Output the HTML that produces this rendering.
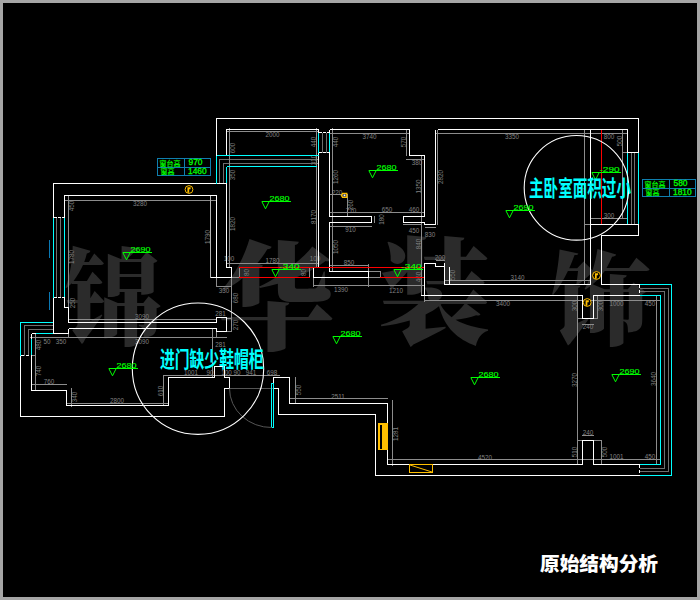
<!DOCTYPE html>
<html lang="zh"><head><meta charset="utf-8"><title>原始结构分析</title>
<style>
html,body{margin:0;padding:0;background:#000;}
body{width:700px;height:600px;overflow:hidden;position:relative;font-family:"Liberation Sans","Noto Sans CJK SC",sans-serif;}
#frame{position:absolute;left:0;top:0;width:694px;height:594px;border:3px solid #a6a6a6;background:#000;}
svg{position:absolute;left:0;top:0;}
.wm{font-family:"Liberation Serif","Noto Serif CJK SC",serif;font-weight:900;font-size:110px;fill:#2b2b2b;}
.lv{font-family:"Liberation Sans",sans-serif;font-size:7.6px;fill:#00ff00;stroke:#00ff00;stroke-width:0.15px;}
.dm{font-family:"Liberation Sans",sans-serif;font-size:6.3px;fill:#808080;}
.tb{font-family:"Liberation Sans","Noto Sans CJK SC",sans-serif;font-weight:400;font-size:7px;fill:#00ff00;stroke:#00ff00;stroke-width:0.2px;}
.tn{font-family:"Liberation Sans",sans-serif;font-size:8.4px;fill:#00ff00;stroke:#00ff00;stroke-width:0.3px;}
.note{font-family:"Liberation Sans","Noto Sans CJK SC",sans-serif;font-weight:700;font-size:21.4px;fill:#00ffff;}
.title{font-family:"Liberation Sans","Noto Sans CJK SC",sans-serif;font-weight:900;font-size:19.5px;fill:#fff;}
</style></head><body>
<div id="frame"></div>
<svg width="700" height="600" viewBox="0 0 700 600">
<g id="watermark">
<text class="wm" transform="translate(113.5 336) scale(0.89 0.955)" text-anchor="middle">锦</text>
<text class="wm" transform="translate(276 340) scale(1.06 1.06)" text-anchor="middle">华</text>
<text class="wm" transform="translate(434.5 335) scale(1.02 1.05)" text-anchor="middle">装</text>
<text class="wm" transform="translate(600 337) scale(0.92 0.93)" text-anchor="middle">饰</text>
</g>
<g id="dims">
<text x="140" y="206.0" text-anchor="middle" class="dm">3280</text>
<text x="71.5" y="208.5" text-anchor="middle" class="dm" transform="rotate(-90 71.5 206)">450</text>
<text x="71.5" y="259.5" text-anchor="middle" class="dm" transform="rotate(-90 71.5 257)">1780</text>
<text x="72" y="305.5" text-anchor="middle" class="dm" transform="rotate(-90 72 303)">250</text>
<text x="142" y="318.5" text-anchor="middle" class="dm">3090</text>
<text x="142" y="343.5" text-anchor="middle" class="dm">3090</text>
<text x="47" y="343.5" text-anchor="middle" class="dm">50</text>
<text x="61" y="343.5" text-anchor="middle" class="dm">350</text>
<text x="38.5" y="347.5" text-anchor="middle" class="dm" transform="rotate(-90 38.5 345)">480</text>
<text x="38.5" y="373.5" text-anchor="middle" class="dm" transform="rotate(-90 38.5 371)">740</text>
<text x="49" y="383.5" text-anchor="middle" class="dm">760</text>
<text x="74" y="399.5" text-anchor="middle" class="dm" transform="rotate(-90 74 397)">340</text>
<text x="117" y="402.5" text-anchor="middle" class="dm">2800</text>
<text x="160" y="393.5" text-anchor="middle" class="dm" transform="rotate(-90 160 391)">610</text>
<text x="191" y="374.5" text-anchor="middle" class="dm">1001</text>
<text x="251" y="374.5" text-anchor="middle" class="dm">941</text>
<text x="210" y="374.5" text-anchor="middle" class="dm">90</text>
<text x="226.5" y="374.5" text-anchor="middle" class="dm">100</text>
<text x="237" y="374.5" text-anchor="middle" class="dm">90</text>
<text x="272" y="374.5" text-anchor="middle" class="dm">698</text>
<text x="298" y="392.5" text-anchor="middle" class="dm" transform="rotate(-90 298 390)">550</text>
<text x="338" y="398.5" text-anchor="middle" class="dm">2511</text>
<text x="395.5" y="436.5" text-anchor="middle" class="dm" transform="rotate(-90 395.5 434)">1281</text>
<text x="485" y="459.5" text-anchor="middle" class="dm">4520</text>
<text x="574" y="382.5" text-anchor="middle" class="dm" transform="rotate(-90 574 380)">3270</text>
<text x="653.5" y="381.5" text-anchor="middle" class="dm" transform="rotate(-90 653.5 379)">3640</text>
<text x="588" y="434.5" text-anchor="middle" class="dm">240</text>
<text x="588" y="328.5" text-anchor="middle" class="dm">240</text>
<text x="574" y="454.5" text-anchor="middle" class="dm" transform="rotate(-90 574 452)">510</text>
<text x="604.5" y="454.5" text-anchor="middle" class="dm" transform="rotate(-90 604.5 452)">500</text>
<text x="616.5" y="459.0" text-anchor="middle" class="dm">1001</text>
<text x="650" y="459.0" text-anchor="middle" class="dm">450</text>
<text x="616.5" y="306.0" text-anchor="middle" class="dm">1000</text>
<text x="650" y="306.0" text-anchor="middle" class="dm">450</text>
<text x="574" y="308.5" text-anchor="middle" class="dm" transform="rotate(-90 574 306)">300</text>
<text x="600.5" y="308.5" text-anchor="middle" class="dm" transform="rotate(-90 600.5 306)">300</text>
<text x="503" y="306.0" text-anchor="middle" class="dm">3400</text>
<text x="517.5" y="280.0" text-anchor="middle" class="dm">3140</text>
<text x="272.5" y="137.0" text-anchor="middle" class="dm">2000</text>
<text x="232.5" y="150.5" text-anchor="middle" class="dm" transform="rotate(-90 232.5 148)">600</text>
<text x="232.5" y="177.5" text-anchor="middle" class="dm" transform="rotate(-90 232.5 175)">350</text>
<text x="232.5" y="226.5" text-anchor="middle" class="dm" transform="rotate(-90 232.5 224)">1820</text>
<text x="369.5" y="138.5" text-anchor="middle" class="dm">3740</text>
<text x="313.5" y="144.5" text-anchor="middle" class="dm" transform="rotate(-90 313.5 142)">440</text>
<text x="335" y="144.5" text-anchor="middle" class="dm" transform="rotate(-90 335 142)">440</text>
<text x="313.5" y="162.5" text-anchor="middle" class="dm" transform="rotate(-90 313.5 160)">310</text>
<text x="335" y="179.5" text-anchor="middle" class="dm" transform="rotate(-90 335 177)">1260</text>
<text x="313.5" y="219.5" text-anchor="middle" class="dm" transform="rotate(-90 313.5 217)">8170</text>
<text x="403.5" y="144.5" text-anchor="middle" class="dm" transform="rotate(-90 403.5 142)">570</text>
<text x="417" y="165.0" text-anchor="middle" class="dm">380</text>
<text x="418" y="189.0" text-anchor="middle" class="dm" transform="rotate(-90 418 186.5)">1350</text>
<text x="387" y="212.0" text-anchor="middle" class="dm">650</text>
<text x="414" y="212.0" text-anchor="middle" class="dm">460</text>
<text x="414" y="232.5" text-anchor="middle" class="dm">450</text>
<text x="430" y="237.0" text-anchor="middle" class="dm">830</text>
<text x="418.5" y="246.5" text-anchor="middle" class="dm" transform="rotate(-90 418.5 244)">840</text>
<text x="440" y="260.0" text-anchor="middle" class="dm">200</text>
<text x="452.5" y="277.5" text-anchor="middle" class="dm" transform="rotate(-90 452.5 275)">550</text>
<text x="418.5" y="279.5" text-anchor="middle" class="dm" transform="rotate(-90 418.5 277)">460</text>
<text x="396" y="292.5" text-anchor="middle" class="dm">1210</text>
<text x="341" y="292.0" text-anchor="middle" class="dm">1390</text>
<text x="349" y="265.0" text-anchor="middle" class="dm">850</text>
<text x="335.5" y="249.5" text-anchor="middle" class="dm" transform="rotate(-90 335.5 247)">1050</text>
<text x="350.5" y="232.0" text-anchor="middle" class="dm">910</text>
<text x="351" y="212.5" text-anchor="middle" class="dm">710</text>
<text x="381.5" y="222.0" text-anchor="middle" class="dm" transform="rotate(-90 381.5 219.5)">180</text>
<text x="337" y="194.5" text-anchor="middle" class="dm">220</text>
<text x="350" y="207.5" text-anchor="middle" class="dm" transform="rotate(-90 350 205)">260</text>
<text x="512" y="139.0" text-anchor="middle" class="dm">3350</text>
<text x="440" y="179.5" text-anchor="middle" class="dm" transform="rotate(-90 440 177)">2820</text>
<text x="609" y="138.5" text-anchor="middle" class="dm">800</text>
<text x="619.5" y="143.5" text-anchor="middle" class="dm" transform="rotate(-90 619.5 141)">500</text>
<text x="609" y="218.0" text-anchor="middle" class="dm">300</text>
<text x="224" y="292.5" text-anchor="middle" class="dm">330</text>
<text x="235" y="300.5" text-anchor="middle" class="dm" transform="rotate(-90 235 298)">680</text>
<text x="235" y="327.5" text-anchor="middle" class="dm" transform="rotate(-90 235 325)">270</text>
<text x="220.5" y="315.5" text-anchor="middle" class="dm">281</text>
<text x="220.5" y="347.0" text-anchor="middle" class="dm">281</text>
<text x="272.5" y="263.0" text-anchor="middle" class="dm">1780</text>
<text x="207" y="239.5" text-anchor="middle" class="dm" transform="rotate(-90 207 237)">1790</text>
<text x="229" y="261.0" text-anchor="middle" class="dm">100</text>
<text x="246" y="275.0" text-anchor="middle" class="dm" transform="rotate(-90 246 272.5)">80</text>
<text x="303" y="275.0" text-anchor="middle" class="dm" transform="rotate(-90 303 272.5)">80</text>
<text x="315" y="261.0" text-anchor="middle" class="dm">100</text>
<text x="582" y="192.5" text-anchor="middle" class="dm" transform="rotate(-90 582 190)">5</text>
</g>
<g id="plan" shape-rendering="crispEdges" fill="none">
<line x1="56.5" y1="217.5" x2="56.5" y2="297.5" stroke="#6e6e6e" stroke-width="1"/>
<line x1="60.5" y1="217.5" x2="60.5" y2="297.5" stroke="#6e6e6e" stroke-width="1"/>
<line x1="68.5" y1="195" x2="68.5" y2="307.5" stroke="#8c8c8c" stroke-width="1"/>
<line x1="68.5" y1="333.5" x2="68.5" y2="338" stroke="#8c8c8c" stroke-width="1"/>
<line x1="64" y1="200.5" x2="217" y2="200.5" stroke="#8c8c8c" stroke-width="1"/>
<line x1="216.5" y1="277.5" x2="216.5" y2="286.5" stroke="#8c8c8c" stroke-width="1"/>
<line x1="68" y1="319.5" x2="217" y2="319.5" stroke="#8c8c8c" stroke-width="1"/>
<line x1="30" y1="337.5" x2="226.5" y2="337.5" stroke="#8c8c8c" stroke-width="1"/>
<line x1="212.5" y1="328.5" x2="212.5" y2="378" stroke="#8c8c8c" stroke-width="1"/>
<line x1="216.5" y1="331.5" x2="216.5" y2="338" stroke="#8c8c8c" stroke-width="1"/>
<line x1="231.5" y1="277.5" x2="231.5" y2="331.5" stroke="#8c8c8c" stroke-width="1"/>
<line x1="226" y1="318.5" x2="232" y2="318.5" stroke="#8c8c8c" stroke-width="1"/>
<line x1="226" y1="331.5" x2="232" y2="331.5" stroke="#8c8c8c" stroke-width="1"/>
<line x1="31.5" y1="355.5" x2="35.5" y2="355.5" stroke="#8c8c8c" stroke-width="1"/>
<polyline points="52.5,325.5 24.5,325.5 24.5,355.5" fill="none" stroke="#6e6e6e" stroke-width="1"/>
<polyline points="52.5,329.5 28.5,329.5 28.5,355.5" fill="none" stroke="#6e6e6e" stroke-width="1"/>
<line x1="35.5" y1="333.5" x2="35.5" y2="391" stroke="#8c8c8c" stroke-width="1"/>
<line x1="31" y1="384.5" x2="67" y2="384.5" stroke="#8c8c8c" stroke-width="1"/>
<line x1="71" y1="388" x2="71" y2="407" stroke="#8c8c8c" stroke-width="1"/>
<line x1="66" y1="403" x2="169" y2="403" stroke="#8c8c8c" stroke-width="1"/>
<line x1="163" y1="376" x2="163" y2="406" stroke="#8c8c8c" stroke-width="1"/>
<line x1="163" y1="375.5" x2="280" y2="375.5" stroke="#8c8c8c" stroke-width="1"/>
<line x1="231.5" y1="277.5" x2="239" y2="277.5" stroke="#8c8c8c" stroke-width="1"/>
<line x1="313.5" y1="277.5" x2="313.5" y2="286.5" stroke="#8c8c8c" stroke-width="1"/>
<polyline points="318,159.5 219.5,159.5 219.5,183.5" fill="none" stroke="#6e6e6e" stroke-width="1"/>
<polyline points="318,163.5 223.5,163.5 223.5,183.5" fill="none" stroke="#6e6e6e" stroke-width="1"/>
<line x1="229.5" y1="128" x2="229.5" y2="268" stroke="#8c8c8c" stroke-width="1"/>
<line x1="226" y1="131.5" x2="319" y2="131.5" stroke="#8c8c8c" stroke-width="1"/>
<line x1="316.5" y1="128" x2="316.5" y2="268" stroke="#8c8c8c" stroke-width="1"/>
<line x1="226" y1="263.5" x2="319" y2="263.5" stroke="#8c8c8c" stroke-width="1"/>
<line x1="322.5" y1="132.5" x2="322.5" y2="152.5" stroke="#6e6e6e" stroke-width="1"/>
<line x1="326" y1="132.5" x2="326" y2="152.5" stroke="#6e6e6e" stroke-width="1"/>
<line x1="239" y1="267" x2="239" y2="278" stroke="#8c8c8c" stroke-width="1"/>
<line x1="309.5" y1="267" x2="309.5" y2="278" stroke="#8c8c8c" stroke-width="1"/>
<line x1="380" y1="271" x2="380" y2="278" stroke="#8c8c8c" stroke-width="1"/>
<line x1="368.5" y1="271.5" x2="380" y2="271.5" stroke="#8c8c8c" stroke-width="1"/>
<line x1="368.5" y1="277.5" x2="380" y2="277.5" stroke="#8c8c8c" stroke-width="1"/>
<line x1="368.5" y1="264" x2="368.5" y2="286.5" stroke="#8c8c8c" stroke-width="1"/>
<line x1="216.5" y1="286.5" x2="231.5" y2="286.5" stroke="#8c8c8c" stroke-width="1"/>
<line x1="313.5" y1="285.5" x2="424.5" y2="285.5" stroke="#8c8c8c" stroke-width="1"/>
<line x1="332.5" y1="128" x2="332.5" y2="272" stroke="#8c8c8c" stroke-width="1"/>
<line x1="329" y1="133.5" x2="410" y2="133.5" stroke="#8c8c8c" stroke-width="1"/>
<line x1="406.5" y1="129" x2="406.5" y2="156" stroke="#8c8c8c" stroke-width="1"/>
<line x1="406" y1="159.5" x2="425" y2="159.5" stroke="#8c8c8c" stroke-width="1"/>
<line x1="421.5" y1="156" x2="421.5" y2="296" stroke="#8c8c8c" stroke-width="1"/>
<line x1="329" y1="212.5" x2="425" y2="212.5" stroke="#8c8c8c" stroke-width="1"/>
<line x1="329" y1="226.5" x2="372" y2="226.5" stroke="#8c8c8c" stroke-width="1"/>
<line x1="374.5" y1="216" x2="374.5" y2="223" stroke="#8c8c8c" stroke-width="1"/>
<line x1="329" y1="194.5" x2="347" y2="194.5" stroke="#8c8c8c" stroke-width="1"/>
<line x1="347.5" y1="194" x2="347.5" y2="216" stroke="#8c8c8c" stroke-width="1"/>
<line x1="329" y1="265.5" x2="369" y2="265.5" stroke="#8c8c8c" stroke-width="1"/>
<line x1="403" y1="224.5" x2="421" y2="224.5" stroke="#8c8c8c" stroke-width="1"/>
<line x1="424.5" y1="227.5" x2="435.5" y2="227.5" stroke="#8c8c8c" stroke-width="1"/>
<line x1="437.5" y1="129.5" x2="437.5" y2="225" stroke="#8c8c8c" stroke-width="1"/>
<line x1="435" y1="133.5" x2="628" y2="133.5" stroke="#8c8c8c" stroke-width="1"/>
<line x1="584.5" y1="129.5" x2="584.5" y2="284.5" stroke="#8c8c8c" stroke-width="1"/>
<line x1="631.5" y1="152.5" x2="631.5" y2="224.5" stroke="#6e6e6e" stroke-width="1"/>
<line x1="634.5" y1="152.5" x2="634.5" y2="224.5" stroke="#6e6e6e" stroke-width="1"/>
<line x1="622.5" y1="152.5" x2="627.5" y2="152.5" stroke="#8c8c8c" stroke-width="1"/>
<line x1="584.5" y1="224.5" x2="590.5" y2="224.5" stroke="#8c8c8c" stroke-width="1"/>
<line x1="622.5" y1="129" x2="622.5" y2="218.5" stroke="#8c8c8c" stroke-width="1"/>
<line x1="590" y1="218.5" x2="628" y2="218.5" stroke="#8c8c8c" stroke-width="1"/>
<line x1="435.5" y1="260.5" x2="444.5" y2="260.5" stroke="#8c8c8c" stroke-width="1"/>
<line x1="444.5" y1="280.5" x2="590" y2="280.5" stroke="#8c8c8c" stroke-width="1"/>
<line x1="424.5" y1="295.5" x2="424.5" y2="302" stroke="#8c8c8c" stroke-width="1"/>
<line x1="424.5" y1="300.5" x2="660" y2="300.5" stroke="#8c8c8c" stroke-width="1"/>
<polyline points="639.5,288.5 668,288.5 668,471.5 639.5,471.5" fill="none" stroke="#6e6e6e" stroke-width="1"/>
<polyline points="639.5,291.5 664.5,291.5 664.5,468 639.5,468" fill="none" stroke="#6e6e6e" stroke-width="1"/>
<line x1="656.5" y1="295" x2="656.5" y2="465" stroke="#8c8c8c" stroke-width="1"/>
<line x1="577.5" y1="295" x2="577.5" y2="465" stroke="#8c8c8c" stroke-width="1"/>
<line x1="597.5" y1="295" x2="597.5" y2="319" stroke="#8c8c8c" stroke-width="1"/>
<line x1="582" y1="324.5" x2="594" y2="324.5" stroke="#8c8c8c" stroke-width="1"/>
<line x1="577" y1="318.5" x2="598" y2="318.5" stroke="#8c8c8c" stroke-width="1"/>
<line x1="387" y1="459.5" x2="660" y2="459.5" stroke="#8c8c8c" stroke-width="1"/>
<line x1="392.5" y1="400" x2="392.5" y2="466" stroke="#8c8c8c" stroke-width="1"/>
<line x1="289" y1="398.5" x2="388" y2="398.5" stroke="#8c8c8c" stroke-width="1"/>
<line x1="295.5" y1="377" x2="295.5" y2="404" stroke="#8c8c8c" stroke-width="1"/>
<line x1="601.5" y1="440" x2="601.5" y2="465" stroke="#8c8c8c" stroke-width="1"/>
<line x1="582" y1="435.5" x2="594" y2="435.5" stroke="#8c8c8c" stroke-width="1"/>
<line x1="577" y1="440.5" x2="602" y2="440.5" stroke="#8c8c8c" stroke-width="1"/>
<line x1="229.5" y1="388.5" x2="273" y2="388.5" stroke="#555" stroke-width="1"/>
<polyline points="216.5,155.5 216.5,118.5 638.5,118.5 638.5,152.5" fill="none" stroke="#fff" stroke-width="1"/>
<line x1="638.5" y1="152.5" x2="638.5" y2="224.5" stroke="#00ffff" stroke-width="1"/>
<polyline points="638.5,224.5 638.5,235.5 601.5,235.5 601.5,284.5 639.5,284.5" fill="none" stroke="#fff" stroke-width="1"/>
<polyline points="639.5,284.5 671.5,284.5 671.5,475.5 639.5,475.5" fill="none" stroke="#00ffff" stroke-width="1"/>
<polyline points="639.5,475.5 375.5,475.5 375.5,414.5 278.5,414.5 278.5,388.5 273.5,388.5" fill="none" stroke="#fff" stroke-width="1"/>
<polyline points="229.5,388.5 224.5,388.5 224.5,416.5 20.5,416.5 20.5,355.5" fill="none" stroke="#fff" stroke-width="1"/>
<polyline points="20.5,355.5 20.5,322.5 53.5,322.5" fill="none" stroke="#00ffff" stroke-width="1"/>
<polyline points="53.5,333.5 53.5,297.5" fill="none" stroke="#fff" stroke-width="1"/>
<line x1="53.5" y1="297.5" x2="53.5" y2="217.5" stroke="#00ffff" stroke-width="1"/>
<polyline points="53.5,217.5 53.5,183.5 216.5,183.5" fill="none" stroke="#fff" stroke-width="1"/>
<line x1="216.5" y1="183.5" x2="216.5" y2="155.5" stroke="#00ffff" stroke-width="1"/>
<polyline points="64.5,217.5 64.5,195.5 216.5,195.5 216.5,277.5" fill="none" stroke="#fff" stroke-width="1"/>
<line x1="210.5" y1="195.5" x2="210.5" y2="277.5" stroke="#b4b4b4" stroke-width="1"/>
<line x1="64.5" y1="217.5" x2="64.5" y2="297.5" stroke="#00ffff" stroke-width="1"/>
<line x1="53.5" y1="217.5" x2="64.5" y2="217.5" stroke="#fff" stroke-width="1" stroke-dasharray="3 1"/>
<line x1="53.5" y1="297.5" x2="64.5" y2="297.5" stroke="#fff" stroke-width="1" stroke-dasharray="3 1"/>
<line x1="49.5" y1="240" x2="49.5" y2="258" stroke="#0a78b4" stroke-width="1"/>
<line x1="49.5" y1="292" x2="49.5" y2="310" stroke="#0a78b4" stroke-width="1"/>
<polyline points="64.5,297.5 64.5,307.5 68.5,307.5 68.5,322.5" fill="none" stroke="#fff" stroke-width="1"/>
<line x1="68.5" y1="328.5" x2="68.5" y2="333.5" stroke="#fff" stroke-width="1"/>
<line x1="68.5" y1="322.5" x2="216.5" y2="322.5" stroke="#fff" stroke-width="1"/>
<line x1="68.5" y1="328.5" x2="216.5" y2="328.5" stroke="#fff" stroke-width="1"/>
<line x1="53.5" y1="333.5" x2="68.5" y2="333.5" stroke="#fff" stroke-width="1"/>
<polyline points="216.5,322.5 216.5,317.5 226.5,317.5 226.5,331.5 216.5,331.5 216.5,328.5" fill="none" stroke="#fff" stroke-width="1"/>
<line x1="36" y1="333.5" x2="53" y2="333.5" stroke="#00ffff" stroke-width="1"/>
<line x1="31.5" y1="333.5" x2="36" y2="333.5" stroke="#fff" stroke-width="1"/>
<line x1="31.5" y1="333.5" x2="31.5" y2="338.5" stroke="#fff" stroke-width="1"/>
<line x1="31.5" y1="338.5" x2="31.5" y2="355.5" stroke="#00ffff" stroke-width="1"/>
<polyline points="31.5,355.5 31.5,390.5 66.5,390.5 66.5,405.5 168.5,405.5 168.5,377.5 214.5,377.5 214.5,366.5 224.5,366.5 224.5,377.5 229.5,377.5 229.5,388.5" fill="none" stroke="#fff" stroke-width="1"/>
<line x1="20.5" y1="355.5" x2="31.5" y2="355.5" stroke="#fff" stroke-width="1" stroke-dasharray="3 2"/>
<line x1="53.5" y1="322.5" x2="53.5" y2="333.5" stroke="#fff" stroke-width="1" stroke-dasharray="3 2"/>
<polyline points="226.5,155.5 226.5,129.5 318.5,129.5" fill="none" stroke="#fff" stroke-width="1"/>
<line x1="318.5" y1="152.5" x2="318.5" y2="267.5" stroke="#fff" stroke-width="1"/>
<polyline points="226.5,183.5 226.5,267.5 231.5,267.5 231.5,277.5 210.5,277.5" fill="none" stroke="#fff" stroke-width="1"/>
<polyline points="318.5,267.5 313.5,267.5 313.5,277.5 368.5,277.5 368.5,271.5 329.5,271.5 329.5,222.5 371.5,222.5 371.5,216.5 329.5,216.5 329.5,152.5" fill="none" stroke="#fff" stroke-width="1"/>
<line x1="216.5" y1="155.5" x2="318.5" y2="155.5" stroke="#00ffff" stroke-width="1"/>
<line x1="226.5" y1="166.5" x2="316.5" y2="166.5" stroke="#00ffff" stroke-width="1"/>
<line x1="226.5" y1="166.5" x2="226.5" y2="183.5" stroke="#00ffff" stroke-width="1"/>
<line x1="216.5" y1="183.5" x2="226.5" y2="183.5" stroke="#fff" stroke-width="1"/>
<line x1="318.5" y1="132.5" x2="318.5" y2="152.5" stroke="#00ffff" stroke-width="1"/>
<line x1="329.5" y1="132.5" x2="329.5" y2="152.5" stroke="#00ffff" stroke-width="1"/>
<line x1="318.5" y1="129.5" x2="318.5" y2="132.5" stroke="#fff" stroke-width="1"/>
<line x1="329.5" y1="129.5" x2="329.5" y2="132.5" stroke="#fff" stroke-width="1"/>
<line x1="319" y1="132.5" x2="329.5" y2="132.5" stroke="#fff" stroke-width="1" stroke-dasharray="2.5 1.5"/>
<line x1="319" y1="152.5" x2="329.5" y2="152.5" stroke="#fff" stroke-width="1" stroke-dasharray="2.5 1.5"/>
<line x1="239" y1="267.5" x2="424.5" y2="267.5" stroke="#ff0000" stroke-width="1"/>
<line x1="239" y1="277.5" x2="309.5" y2="277.5" stroke="#ff0000" stroke-width="1"/>
<line x1="380" y1="277.5" x2="424.5" y2="277.5" stroke="#ff0000" stroke-width="1"/>
<polyline points="329.5,129.5 409.5,129.5 409.5,155.5 424.5,155.5 424.5,216.5 403.5,216.5 403.5,222.5 424.5,222.5 424.5,224.5 435.5,224.5 435.5,129.5" fill="none" stroke="#fff" stroke-width="1"/>
<polyline points="437.5,129.5 627.5,129.5 627.5,152.5" fill="none" stroke="#fff" stroke-width="1"/>
<line x1="590.5" y1="129.5" x2="590.5" y2="284.5" stroke="#fff" stroke-width="1"/>
<line x1="601.5" y1="129.5" x2="601.5" y2="225" stroke="#ff0000" stroke-width="1"/>
<line x1="627.5" y1="152.5" x2="627.5" y2="224.5" stroke="#00ffff" stroke-width="1"/>
<line x1="627.5" y1="152.5" x2="638.5" y2="152.5" stroke="#fff" stroke-width="1"/>
<line x1="590.5" y1="224.5" x2="638.5" y2="224.5" stroke="#fff" stroke-width="1"/>
<polyline points="424.5,295.5 424.5,263.5 435.5,263.5 435.5,266.5 444.5,266.5 444.5,284.5 590.5,284.5" fill="none" stroke="#fff" stroke-width="1"/>
<line x1="444.5" y1="262.5" x2="444.5" y2="266.5" stroke="#fff" stroke-width="1"/>
<line x1="449.5" y1="266.5" x2="449.5" y2="284.5" stroke="#fff" stroke-width="1"/>
<polyline points="421,295.5 582.5,295.5 582.5,318.5 593.5,318.5 593.5,295.5 639.5,295.5" fill="none" stroke="#fff" stroke-width="1"/>
<polyline points="639.5,295.5 660.5,295.5 660.5,464.5 639.5,464.5" fill="none" stroke="#00ffff" stroke-width="1"/>
<line x1="639.5" y1="284.5" x2="639.5" y2="295.5" stroke="#fff" stroke-width="1" stroke-dasharray="3 2"/>
<line x1="639.5" y1="464.5" x2="639.5" y2="475.5" stroke="#fff" stroke-width="1" stroke-dasharray="3 2"/>
<polyline points="639.5,464.5 593.5,464.5 593.5,440.5 582.5,440.5 582.5,464.5 387.5,464.5 387.5,403.5 289.5,403.5 289.5,377.5 273.5,377.5 273.5,388.5" fill="none" stroke="#fff" stroke-width="1"/>
<rect x="271.5" y="383.5" width="2" height="44" fill="none" stroke="#00ffff" stroke-width="1"/>
<path d="M229.5,388.5 A42,39 0 0 0 272,427.5" fill="none" stroke="#555" stroke-width="1" shape-rendering="auto"/>
<rect x="378" y="423" width="10" height="27" fill="#ffbf00"/>
<rect x="379.5" y="424.5" width="2.5" height="24" fill="#000"/>
<rect x="409.5" y="464.5" width="23" height="8" fill="none" stroke="#ffbf00" stroke-width="1"/>
<line x1="410" y1="465" x2="432" y2="472" stroke="#ffbf00" stroke-width="1" shape-rendering="auto"/>
<g shape-rendering="auto"><polygon points="341.4,195.4 342.6,193.4 346.8,193.4 346.8,197.4 342.6,197.4" fill="#4a5060" stroke="#ffbf00" stroke-width="1.3"/><circle cx="344.5" cy="195.4" r="0.8" fill="#fff"/></g>
</g>
<g id="circles">
<circle cx="198" cy="368.7" r="65.7" fill="none" stroke="#fff" stroke-width="1.1"/>
<circle cx="576.5" cy="187.8" r="52.3" fill="none" stroke="#fff" stroke-width="1.1"/>
</g>
<g id="levels">
<g stroke="#00ff00" fill="none" stroke-width="1"><line x1="122.5" y1="252.5" x2="152.0" y2="252.5" shape-rendering="crispEdges"/><path d="M122.8,252.5 L126.5,259.8 L130.2,252.5"/></g><text x="150.5" y="251.9" text-anchor="end" class="lv" textLength="20" lengthAdjust="spacingAndGlyphs">2690</text>
<g stroke="#00ff00" fill="none" stroke-width="1"><line x1="261.5" y1="201.5" x2="291.0" y2="201.5" shape-rendering="crispEdges"/><path d="M261.8,201.5 L265.5,208.8 L269.2,201.5"/></g><text x="289.5" y="200.9" text-anchor="end" class="lv" textLength="20" lengthAdjust="spacingAndGlyphs">2680</text>
<g stroke="#00ff00" fill="none" stroke-width="1"><line x1="368.5" y1="170.5" x2="398.0" y2="170.5" shape-rendering="crispEdges"/><path d="M368.8,170.5 L372.5,177.8 L376.2,170.5"/></g><text x="396.5" y="169.9" text-anchor="end" class="lv" textLength="20" lengthAdjust="spacingAndGlyphs">2680</text>
<g stroke="#00ff00" fill="none" stroke-width="1"><line x1="505.5" y1="210.5" x2="535.0" y2="210.5" shape-rendering="crispEdges"/><path d="M505.8,210.5 L509.5,217.8 L513.2,210.5"/></g><text x="533.5" y="209.9" text-anchor="end" class="lv" textLength="20" lengthAdjust="spacingAndGlyphs">2690</text>
<g stroke="#00ff00" fill="none" stroke-width="1"><line x1="591.5" y1="172.5" x2="621.0" y2="172.5" shape-rendering="crispEdges"/><path d="M591.8,172.5 L595.5,179.8 L599.2,172.5"/></g><text x="619.5" y="171.9" text-anchor="end" class="lv" textLength="20" lengthAdjust="spacingAndGlyphs">-290</text>
<g stroke="#00ff00" fill="none" stroke-width="1"><line x1="271.5" y1="269.5" x2="301.0" y2="269.5" shape-rendering="crispEdges"/><path d="M271.8,269.5 L275.5,276.8 L279.2,269.5"/></g><text x="299.5" y="268.9" text-anchor="end" class="lv" textLength="20" lengthAdjust="spacingAndGlyphs">-340</text>
<g stroke="#00ff00" fill="none" stroke-width="1"><line x1="393.5" y1="269.5" x2="423.0" y2="269.5" shape-rendering="crispEdges"/><path d="M393.8,269.5 L397.5,276.8 L401.2,269.5"/></g><text x="421.5" y="268.9" text-anchor="end" class="lv" textLength="20" lengthAdjust="spacingAndGlyphs">-340</text>
<g stroke="#00ff00" fill="none" stroke-width="1"><line x1="332.5" y1="336.5" x2="362.0" y2="336.5" shape-rendering="crispEdges"/><path d="M332.8,336.5 L336.5,343.8 L340.2,336.5"/></g><text x="360.5" y="335.9" text-anchor="end" class="lv" textLength="20" lengthAdjust="spacingAndGlyphs">2680</text>
<g stroke="#00ff00" fill="none" stroke-width="1"><line x1="108.5" y1="368.5" x2="138.0" y2="368.5" shape-rendering="crispEdges"/><path d="M108.8,368.5 L112.5,375.8 L116.2,368.5"/></g><text x="136.5" y="367.9" text-anchor="end" class="lv" textLength="20" lengthAdjust="spacingAndGlyphs">2680</text>
<g stroke="#00ff00" fill="none" stroke-width="1"><line x1="470.5" y1="377.5" x2="500.0" y2="377.5" shape-rendering="crispEdges"/><path d="M470.8,377.5 L474.5,384.8 L478.2,377.5"/></g><text x="498.5" y="376.9" text-anchor="end" class="lv" textLength="20" lengthAdjust="spacingAndGlyphs">2680</text>
<g stroke="#00ff00" fill="none" stroke-width="1"><line x1="611.5" y1="374.5" x2="641.0" y2="374.5" shape-rendering="crispEdges"/><path d="M611.8,374.5 L615.5,381.8 L619.2,374.5"/></g><text x="639.5" y="373.9" text-anchor="end" class="lv" textLength="20" lengthAdjust="spacingAndGlyphs">2690</text>
</g>
<g id="icons"><g><circle cx="189" cy="189.5" r="3.9" fill="#000" stroke="#ffbf00" stroke-width="1"/><path d="M187.4,187.3 h3.2 v2 h-1.4 v3.4 h-1.8 z" fill="#ffbf00"/></g><g><circle cx="596.5" cy="275.5" r="3.9" fill="#000" stroke="#ffbf00" stroke-width="1"/><path d="M594.9,273.3 h3.2 v2 h-1.4 v3.4 h-1.8 z" fill="#ffbf00"/></g><g><circle cx="587.2" cy="302.5" r="3.9" fill="#000" stroke="#ffbf00" stroke-width="1"/><path d="M585.6,300.3 h3.2 v2 h-1.4 v3.4 h-1.8 z" fill="#ffbf00"/></g></g>
<g id="tables"><g shape-rendering="crispEdges" stroke="#0f7faf" fill="none"><rect x="157.5" y="158.5" width="53" height="17"/><line x1="157.5" y1="167.0" x2="210.5" y2="167.0"/><line x1="184.5" y1="158.5" x2="184.5" y2="175.5"/></g><text x="159.5" y="165.6" class="tb">窗台高</text><text x="188.5" y="165.0" class="tn">970</text><text x="160.5" y="173.7" class="tb">窗高</text><text x="188.0" y="173.9" class="tn">1460</text><g shape-rendering="crispEdges" stroke="#0f7faf" fill="none"><rect x="642.5" y="179.5" width="53" height="17"/><line x1="642.5" y1="188.0" x2="695.5" y2="188.0"/><line x1="669.5" y1="179.5" x2="669.5" y2="196.5"/></g><text x="644.5" y="186.6" class="tb">窗台高</text><text x="673.5" y="186.0" class="tn">580</text><text x="645.5" y="194.7" class="tb">窗高</text><text x="673.0" y="194.9" class="tn">1810</text></g>
<text class="note" x="160" y="366.7" textLength="103.5" lengthAdjust="spacingAndGlyphs">进门缺少鞋帽柜</text>
<text class="note" x="529" y="195.7" textLength="102" lengthAdjust="spacingAndGlyphs">主卧室面积过小</text>
<text class="title" x="540" y="571" textLength="118" lengthAdjust="spacingAndGlyphs">原始结构分析</text>
</svg>
</body></html>
